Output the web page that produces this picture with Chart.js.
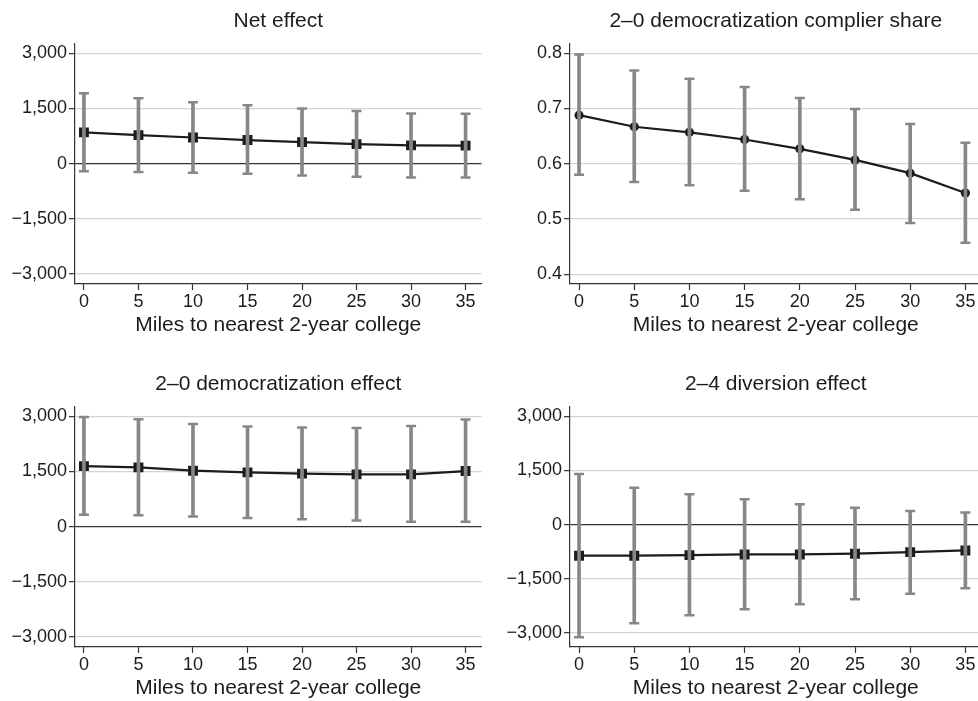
<!DOCTYPE html>
<html>
<head>
<meta charset="utf-8">
<script src="https://cdn.jsdelivr.net/npm/chart.js@4.4.1/dist/chart.umd.min.js"></script>
<style>
  html, body { margin: 0; padding: 0; background: #fff; overflow: hidden; }
  body { width: 978px; height: 701px; position: relative; }
  canvas { position: absolute; }
</style>
</head>
<body>
<canvas id="cNet" width="489" height="338" style="left:0;top:0"></canvas>
<canvas id="cShare" width="500" height="338" style="left:489px;top:0"></canvas>
<canvas id="cDem" width="489" height="338" style="left:0;top:363px"></canvas>
<canvas id="cDiv" width="500" height="338" style="left:489px;top:363px"></canvas>
<script>
// ── Data ───────────────────────────────────────────────────
const miles = [0, 5, 10, 15, 20, 25, 30, 35];

const netEst = [850, 775, 710, 640, 585, 530, 495, 490];
const netHi  = [1910, 1775, 1665, 1585, 1500, 1430, 1365, 1355];
const netLo  = [-210, -225, -245, -275, -320, -355, -375, -380];

const shareEst = [0.688, 0.667, 0.657, 0.644, 0.627, 0.607, 0.583, 0.547];
const shareHi  = [0.798, 0.769, 0.754, 0.739, 0.719, 0.699, 0.672, 0.638];
const shareLo  = [0.580, 0.567, 0.561, 0.551, 0.536, 0.517, 0.493, 0.457];

const demEst = [1645, 1610, 1520, 1475, 1440, 1420, 1420, 1510];
const demHi  = [2980, 2920, 2790, 2720, 2690, 2680, 2735, 2910];
const demLo  = [320, 310, 275, 235, 200, 165, 135, 135];

const divEst = [-860, -860, -845, -825, -825, -805, -760, -715];
const divHi  = [1405, 1020, 845, 705, 565, 465, 380, 335];
const divLo  = [-3120, -2730, -2510, -2345, -2205, -2065, -1915, -1760];

const effectTicks = [-3000, -1500, 0, 1500, 3000];
const shareTicks  = [0.4, 0.5, 0.6, 0.7, 0.8];
const xTicks      = [0, 5, 10, 15, 20, 25, 30, 35];
const xTitle      = 'Miles to nearest 2-year college';

// ── Helpers ────────────────────────────────────────────────
const FONT = '"Liberation Sans", Arial, Helvetica, sans-serif';
const INK = '#1c1c1c';
const BAR = '#878787';

function fmtEffect(v) {
  const s = Math.abs(v).toLocaleString('en-US');
  return v < 0 ? '\u2212' + s : s;
}

function makePanel(id, cfg) {
  const canvas = document.getElementById(id);
  const W = canvas.width;
  const pts = (arr) => miles.map((m, i) => ({ x: m, y: arr[i] }));

  return new Chart(canvas, {
    type: 'line',
    data: {
      datasets: [
        {
          type: 'bar',
          data: miles.map((m, i) => ({ x: m, y: [cfg.lo[i], cfg.hi[i]] })),
          backgroundColor: BAR,
          barThickness: 3,
          order: 1,
        },
        {
          type: 'line',
          data: pts(cfg.hi).concat(pts(cfg.lo)),
          showLine: false,
          pointStyle: 'line',
          pointRadius: 5,
          pointBorderWidth: 2.5,
          pointBorderColor: BAR,
          order: 0,
        },
        {
          type: 'line',
          data: pts(cfg.est),
          borderColor: INK,
          borderWidth: 2.2,
          pointStyle: cfg.marker,
          pointRadius: cfg.marker === 'rect' ? 7 : 4.6,
          pointBackgroundColor: INK,
          pointBorderColor: INK,
          pointBorderWidth: 0,
          order: 2,
        },
      ],
    },
    options: {
      responsive: false,
      animation: false,
      events: [],
      layout: { padding: { left: 0, right: W - cfg.right, top: 0, bottom: 0 } },
      plugins: {
        legend: { display: false },
        tooltip: { enabled: false },
        title: {
          display: true,
          text: cfg.title,
          fullSize: false,
          color: INK,
          font: { family: FONT, size: 21, weight: 'normal', lineHeight: 1.2 },
          padding: { top: 9, bottom: 9.8 },
        },
      },
      scales: {
        x: {
          type: 'linear',
          offset: false,
          min: -0.82,
          max: 36.46,
          afterBuildTicks: s => { s.ticks = xTicks.map(v => ({ value: v })); },
          afterFit: s => { s.height = 54; },
          border: { color: '#333', width: 1.2 },
          grid: { offset: false, drawOnChartArea: false, tickColor: '#333', tickLength: 6, tickWidth: 1.2 },
          ticks: { color: INK, padding: 1, maxRotation: 0, autoSkip: false, font: { family: FONT, size: 18 } },
          title: {
            display: true,
            text: xTitle,
            color: INK,
            padding: { top: 0, bottom: 0 },
            font: { family: FONT, size: 21, lineHeight: 1.2 },
          },
        },
        y: {
          type: 'linear',
          min: cfg.ymin,
          max: cfg.ymax,
          afterBuildTicks: s => { s.ticks = cfg.ticks.map(v => ({ value: v })); },
          afterFit: s => { s.width = cfg.left; },
          border: { color: '#333', width: 1.2 },
          grid: {
            color: c => (cfg.zero && c.tick && c.tick.value === 0) ? '#333' : '#d4d4d4',
            lineWidth: c => (cfg.zero && c.tick && c.tick.value === 0) ? 1.2 : 1.3,
            tickColor: '#333',
            tickLength: 6,
            tickWidth: 1.2,
          },
          ticks: {
            color: INK,
            padding: 2,
            autoSkip: false,
            font: { family: FONT, size: 18 },
            callback: cfg.fmt,
          },
        },
      },
    },
  });
}

// ── Panels ─────────────────────────────────────────────────
makePanel('cNet', {
  title: 'Net effect', est: netEst, hi: netHi, lo: netLo,
  marker: 'rect', ticks: effectTicks, ymin: -3270, ymax: 3250, zero: true,
  left: 75, right: 482, fmt: v => fmtEffect(v),
});

makePanel('cShare', {
  title: '2\u20130 democratization complier share', est: shareEst, hi: shareHi, lo: shareLo,
  marker: 'circle', ticks: shareTicks, ymin: 0.3824, ymax: 0.8168, zero: false,
  left: 81, right: 493, fmt: v => v.toFixed(1),
});

makePanel('cDem', {
  title: '2\u20130 democratization effect', est: demEst, hi: demHi, lo: demLo,
  marker: 'rect', ticks: effectTicks, ymin: -3270, ymax: 3250, zero: true,
  left: 75, right: 482, fmt: v => fmtEffect(v),
});

makePanel('cDiv', {
  title: '2\u20134 diversion effect', est: divEst, hi: divHi, lo: divLo,
  marker: 'rect', ticks: effectTicks, ymin: -3390, ymax: 3260, zero: true,
  left: 81, right: 493, fmt: v => fmtEffect(v),
});
</script>
</body>
</html>
